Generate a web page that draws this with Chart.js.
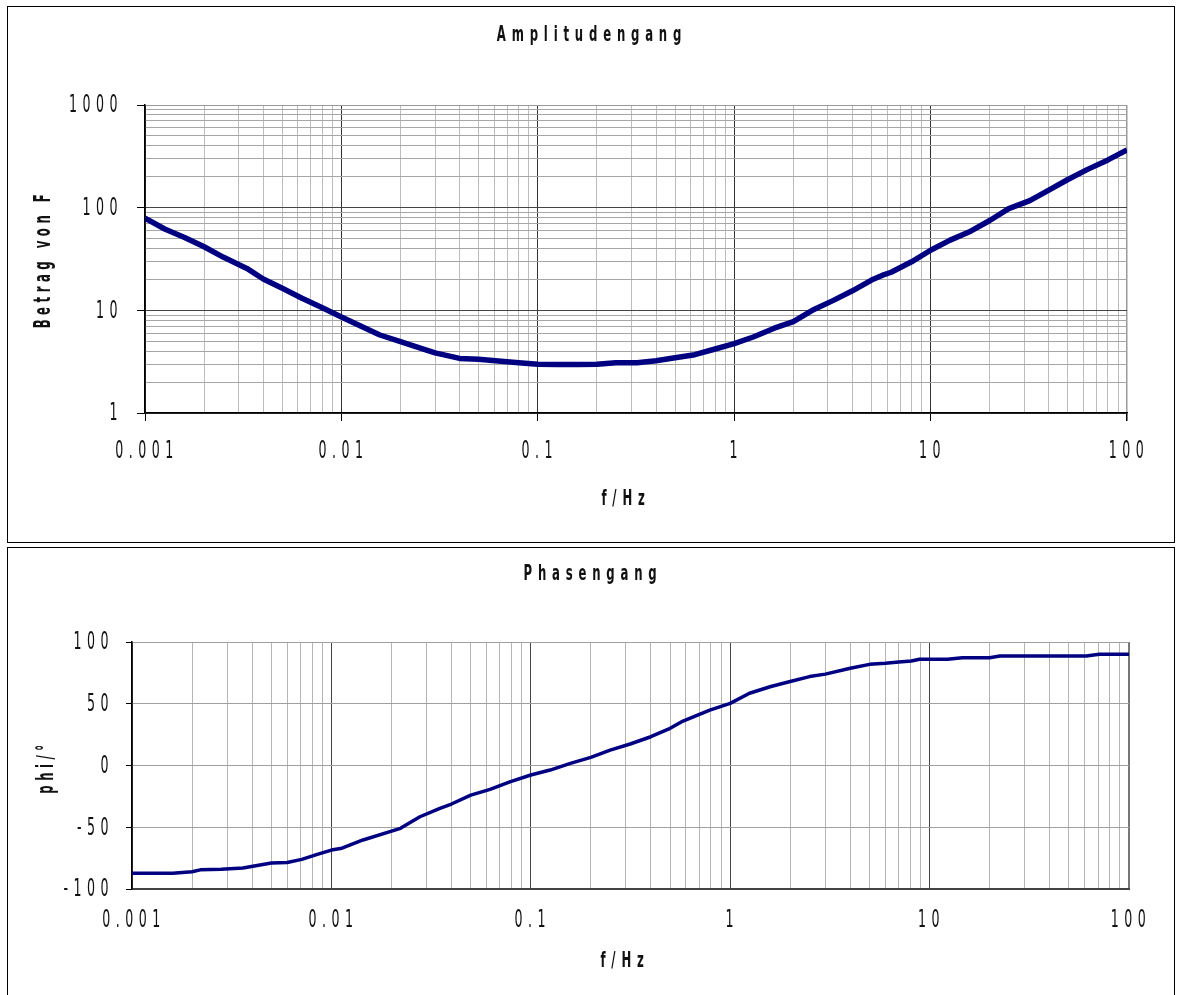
<!DOCTYPE html>
<html>
<head>
<meta charset="utf-8">
<script src="https://cdn.jsdelivr.net/npm/chart.js@4.4.1/dist/chart.umd.min.js"></script>
<style>
    body { margin: 0; background: #fff; }
    .box { position: absolute; left: 7px; width: 1166px; border: 1px solid #000; background: #fff; }
    #box1 { top: 6px; height: 535px; }
    #box2 { top: 547px; height: 447px; }
    canvas { display: block; }
</style>
</head>
<body>
<div class="box" id="box1"><canvas id="ampchart" width="1166" height="535"></canvas></div>
<div class="box" id="box2"><canvas id="phasechart" width="1166" height="447"></canvas></div>
<script>
// Amplitudengang: frequency (Hz) and |F|
const ampFreq = [0.001, 0.00126, 0.0016, 0.002, 0.0025, 0.0033, 0.004, 0.005, 0.0063, 0.008,
    0.01, 0.0126, 0.0157, 0.02, 0.025, 0.03, 0.04, 0.05, 0.063, 0.08,
    0.1, 0.126, 0.16, 0.2, 0.25, 0.32, 0.4, 0.5, 0.63, 0.8,
    1, 1.25, 1.6, 2, 2.5, 3.2, 4, 5, 5.7, 6.3, 8,
    10, 12.5, 16, 20, 25, 32, 40, 50, 63, 80, 100];
const ampValues = [79, 62, 51, 41.6, 33, 25.6, 20.2, 16.4, 13.1, 10.6,
    8.6, 7.0, 5.75, 4.95, 4.3, 3.85, 3.4, 3.33, 3.21, 3.09,
    2.98, 2.97, 2.97, 2.98, 3.08, 3.09, 3.23, 3.45, 3.7, 4.2,
    4.75, 5.5, 6.7, 7.75, 10.0, 12.5, 15.5, 19.7, 22, 23.5, 29.7,
    38.5, 48, 59, 75, 98, 117, 148, 188, 236, 292, 365];

// Phasengang: frequency (Hz) and phi in degrees
const phaseFreq = [0.001, 0.0016, 0.002, 0.0022, 0.0028, 0.0036, 0.005, 0.006, 0.0071, 0.0085,
    0.01, 0.0113, 0.0144, 0.0222, 0.0278, 0.035, 0.04, 0.05, 0.0625, 0.0785,
    0.1, 0.125, 0.158, 0.2, 0.25, 0.315, 0.4, 0.5, 0.58, 0.79,
    1, 1.25, 1.6, 2, 2.5, 3, 4, 5, 6, 7, 8.1, 8.9,
    12.3, 14.6, 20, 22.5, 61, 71, 100];
const phaseValues = [-87.3, -87.3, -86, -84.5, -84, -83, -79, -78.5, -76, -72,
    -68.5, -67, -60.3, -50.9, -41.5, -34.7, -31.2, -24, -19.3, -13.2,
    -7.7, -3.7, 1.7, 6.6, 12.5, 17.4, 23.3, 30.1, 36, 44.9,
    50.3, 58.5, 64, 68, 72, 74, 78.7, 81.9, 82.7, 83.8, 84.6, 86,
    86, 87.3, 87.3, 88.7, 88.7, 90, 90];

// tick labels
const freqTicks = [0.001, 0.01, 0.1, 1, 10, 100];
const freqLabels = ["0.001", "0.01", "0.1", "1", "10", "100"];
const ampTicks = [1, 10, 100, 1000];
const ampLabels = ["1", "10", "100", "1000"];
const phaseTicks = [-100, -50, 0, 50, 100];
const phaseLabels = ["-100", "-50", "0", "50", "100"];

const FONT = "'Liberation Sans Narrow', 'Arial Narrow', 'DejaVu Sans Condensed', sans-serif";
const LINE_COLOR = "#000080";

// 1..9 per decade, like the grid of the original
function logTicks(minExp, maxExp) {
    let ticks = [];
    for (let e = minExp; e < maxExp; e++) {
        for (let m = 1; m <= 9; m++) {
            ticks.push({ value: Number((m * Math.pow(10, e)).toPrecision(6)) });
        }
    }
    ticks.push({ value: Math.pow(10, maxExp) });
    return ticks;
}

function isDecade(v) {
    const l = Math.log10(v);
    return Math.abs(l - Math.round(l)) < 1e-6;
}

// tall narrow spaced text as in the old spreadsheet chart
function drawText(ctx, text, x, y, o) {
    ctx.save();
    ctx.font = (o.bold ? "bold " : "") + o.size + "px " + FONT;
    ctx.letterSpacing = o.spacing + "px";
    ctx.fillStyle = o.color || "#000";
    ctx.textAlign = o.align || "center";
    ctx.textBaseline = "middle";
    ctx.translate(x, y);
    if (o.rotate) ctx.rotate(-Math.PI / 2);
    ctx.scale(1, o.stretch);
    ctx.fillText(text, 0, 0);
    ctx.restore();
}

const tickStyle = { size: 14, spacing: 5.5, stretch: 1.75, color: "#111" };
const titleStyle = { size: 13, bold: true, spacing: 5.8, stretch: 1.6, color: "#111" };

function textPlugin(t) {
    return {
        id: "texts",
        afterDraw(chart) {
            const ctx = chart.ctx;
            const xs = chart.scales.x, ys = chart.scales.y;
            t.xTicks.forEach((v, i) => {
                drawText(ctx, t.xLabels[i], xs.getPixelForValue(v) + 2, t.xLabelY, tickStyle);
            });
            t.yTicks.forEach((v, i) => {
                drawText(ctx, t.yLabels[i], t.yLabelX, ys.getPixelForValue(v) + 1, Object.assign({ align: "right" }, tickStyle));
            });
            drawText(ctx, t.title, t.titlePos[0], t.titlePos[1], titleStyle);
            drawText(ctx, "f/Hz", t.xTitlePos[0], t.xTitlePos[1], titleStyle);
            drawText(ctx, t.yTitle, t.yTitlePos[0], t.yTitlePos[1],
                { size: 13, bold: true, spacing: 4.5, stretch: 1.7, rotate: true, color: "#111" });
        },
    };
}

function getAmpConfig() {
    return {
        type: "line",
        data: {
            datasets: [{
                data: ampFreq.map((f, i) => ({ x: f, y: ampValues[i] })),
                borderColor: LINE_COLOR,
                borderWidth: 5.5,
                pointRadius: 0,
                tension: 0,
                borderJoinStyle: "round",
            }],
        },
        options: {
            responsive: false,
            animation: false,
            devicePixelRatio: 1,
            layout: { padding: { top: 98, right: 47, left: 0, bottom: 0 } },
            plugins: { legend: { display: false }, tooltip: { enabled: false } },
            scales: {
                x: {
                    type: "logarithmic",
                    min: 0.001,
                    max: 100,
                    afterBuildTicks: (scale) => { scale.ticks = logTicks(-3, 2); },
                    afterFit: (scale) => { scale.height = 129; },
                    ticks: { display: false, autoSkip: false },
                    border: { color: "#000", width: 1.5 },
                    grid: {
                        color: (c) => c.tick && c.tick.value == 100 ? "#999" : (c.tick && isDecade(c.tick.value) ? "#333" : "#bdbdbd"),
                        lineWidth: (c) => c.tick && c.tick.value == 100 ? 1.5 : 1,
                        tickLength: 8,
                        tickColor: (c) => c.tick && isDecade(c.tick.value) ? "#000" : "rgba(0,0,0,0)",
                    },
                },
                y: {
                    type: "logarithmic",
                    min: 1,
                    max: 1000,
                    afterBuildTicks: (scale) => { scale.ticks = logTicks(0, 3); },
                    afterFit: (scale) => { scale.width = 137; },
                    ticks: { display: false, autoSkip: false },
                    border: { color: "#000", width: 1.5 },
                    grid: {
                        color: (c) => c.tick && c.tick.value == 1000 ? "#999" : (c.tick && isDecade(c.tick.value) ? "#444" : "#a6a6a6"),
                        tickLength: 8,
                        tickColor: (c) => c.tick && isDecade(c.tick.value) ? "#000" : "rgba(0,0,0,0)",
                    },
                },
            },
        },
        plugins: [textPlugin({
            xTicks: freqTicks, xLabels: freqLabels, xLabelY: 445,
            yTicks: ampTicks, yLabels: ampLabels, yLabelX: 115,
            title: "Amplitudengang", titlePos: [584, 29],
            xTitlePos: [618, 493],
            yTitle: "Betrag von F", yTitlePos: [36, 252],
        })],
    };
}

function getPhaseConfig() {
    return {
        type: "line",
        data: {
            datasets: [{
                data: phaseFreq.map((f, i) => ({ x: f, y: phaseValues[i] })),
                borderColor: LINE_COLOR,
                borderWidth: 3.5,
                pointRadius: 0,
                tension: 0,
                borderJoinStyle: "round",
            }],
        },
        options: {
            responsive: false,
            animation: false,
            devicePixelRatio: 1,
            layout: { padding: { top: 94, right: 45, left: 0, bottom: 0 } },
            plugins: { legend: { display: false }, tooltip: { enabled: false } },
            scales: {
                x: {
                    type: "logarithmic",
                    min: 0.001,
                    max: 100,
                    afterBuildTicks: (scale) => { scale.ticks = logTicks(-3, 2); },
                    afterFit: (scale) => { scale.height = 106; },
                    ticks: { display: false, autoSkip: false },
                    border: { color: "#444", width: 2 },
                    grid: {
                        color: (c) => c.tick && c.tick.value == 100 ? "#777" : (c.tick && isDecade(c.tick.value) ? "#444" : "#b5b5b5"),
                        lineWidth: (c) => c.tick && c.tick.value == 100 ? 2 : 1,
                        drawTicks: false,
                    },
                },
                y: {
                    type: "linear",
                    min: -100,
                    max: 100,
                    afterFit: (scale) => { scale.width = 124; },
                    ticks: { display: false, stepSize: 50 },
                    border: { color: "#000", width: 1.5 },
                    grid: { color: "#a0a0a0", tickLength: 6, tickColor: "#000" },
                },
            },
        },
        plugins: [textPlugin({
            xTicks: freqTicks, xLabels: freqLabels, xLabelY: 373,
            yTicks: phaseTicks, yLabels: phaseLabels, yLabelX: 106,
            title: "Phasengang", titlePos: [585, 27],
            xTitlePos: [617, 414],
            yTitle: "phi/°", yTitlePos: [39, 219],
        })],
    };
}

new Chart(document.getElementById("ampchart"), getAmpConfig());
new Chart(document.getElementById("phasechart"), getPhaseConfig());
</script>
</body>
</html>
